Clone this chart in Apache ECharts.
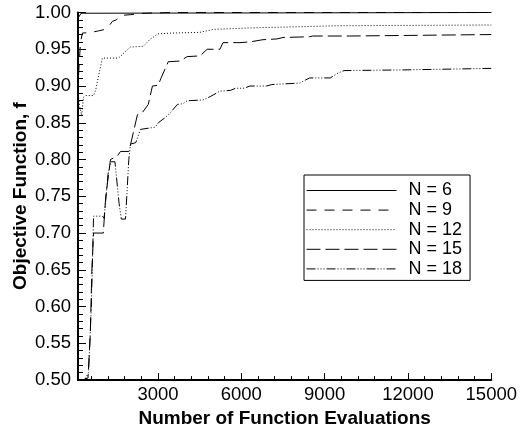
<!DOCTYPE html>
<html><head><meta charset="utf-8">
<script src="https://cdn.jsdelivr.net/npm/echarts@6/dist/echarts.min.js"></script>
<style>html,body{margin:0;padding:0;background:#fff}#c{width:520px;height:433px}</style>
</head><body><div id="c"></div>
<script>
const seriesNames = ['N = 6', 'N = 9', 'N = 12', 'N = 15', 'N = 18'];
const n6 = [[150,0.994],[230,0.999],[300,1.0],[15000,1.0]];
const n9 = [[140,0.915],[210,0.96],[280,0.972],[600,0.973],[860,0.975],[1100,0.977],[1200,0.98],[1360,0.988],[1500,0.99],[1650,0.996],[2000,0.997],[2500,0.999],[3500,1.0],[15000,1.0]];
const n12 = [[130,0.888],[180,0.872],[250,0.86],[320,0.885],[400,0.887],[680,0.887],[760,0.895],[900,0.921],[1000,0.938],[1580,0.938],[2000,0.953],[2470,0.954],[2700,0.963],[3000,0.971],[3500,0.972],[4500,0.973],[5000,0.977],[6300,0.979],[9500,0.982],[15000,0.983]];
const n15 = [[130,0.50],[300,0.50],[480,0.503],[560,0.56],[620,0.65],[680,0.70],[1030,0.70],[1120,0.75],[1290,0.80],[1540,0.805],[1650,0.811],[1950,0.811],[2010,0.82],[2260,0.861],[2440,0.864],[2650,0.875],[2800,0.90],[3010,0.901],[3100,0.91],[3370,0.933],[3800,0.934],[4050,0.94],[4520,0.941],[4770,0.95],[5230,0.95],[5340,0.959],[5950,0.959],[6310,0.96],[6780,0.963],[7280,0.964],[7500,0.966],[8460,0.967],[8570,0.968],[9900,0.968],[15000,0.970]];
const n18 = [[130,0.50],[350,0.50],[500,0.51],[600,0.60],[680,0.723],[1000,0.723],[1060,0.72],[1200,0.78],[1300,0.797],[1450,0.797],[1600,0.74],[1680,0.719],[1830,0.719],[1950,0.80],[2010,0.821],[2200,0.823],[2370,0.841],[2900,0.844],[3010,0.85],[3260,0.857],[3450,0.864],[3700,0.875],[3900,0.876],[4050,0.88],[4620,0.881],[4900,0.886],[5230,0.893],[5600,0.894],[5800,0.897],[6100,0.897],[6310,0.90],[6900,0.90],[7100,0.902],[8100,0.904],[8300,0.908],[8460,0.911],[9200,0.911],[9450,0.917],[9700,0.921],[12000,0.922],[15000,0.924]];
const xMajorTicks = [3000, 6000, 9000, 12000, 15000];
const xMinorTicks = [600,1200,1800,2400,3600,4200,4800,5400,6600,7200,7800,8400,9600,10200,10800,11400,12600,13200,13800,14400];

const FONT = '"Liberation Sans", Arial, sans-serif';
const dashes = ['solid', [10, 8], [1, 2], [14, 5], [9, 2, 1, 2, 1, 2, 1, 2]];
const allData = [n6, n9, n12, n15, n18];

const chart = echarts.init(document.getElementById('c'), null, {renderer: 'canvas'});
chart.setOption({
  animation: false,
  backgroundColor: '#fff',
  grid: {left: 78, right: 28, top: 12.5, bottom: 44, containLabel: false},
  xAxis: [{
    type: 'value', min: 120, max: 15000, position: 'bottom',
    axisLine: {show: true, onZero: false, lineStyle: {color: '#000', width: 2}},
    axisTick: {show: true, inside: true, length: 7, customValues: xMajorTicks, lineStyle: {color: '#000', width: 1}},
    axisLabel: {customValues: xMajorTicks, formatter: v => String(Math.round(v)), fontSize: 18.5, color: '#000', margin: 5, fontFamily: FONT},
    splitLine: {show: false},
    name: 'Number of Function Evaluations', nameLocation: 'middle', nameGap: 17,
    nameTextStyle: {fontWeight: 'bold', fontSize: 19, color: '#000', fontFamily: FONT}
  }, {
    type: 'value', min: 120, max: 15000, position: 'bottom',
    axisLine: {show: false, onZero: false},
    axisTick: {show: true, inside: true, length: 4, customValues: xMinorTicks, lineStyle: {color: '#000', width: 1}},
    axisLabel: {show: false},
    splitLine: {show: false}
  }],
  yAxis: {
    type: 'value', min: 0.5, max: 1.0, interval: 0.05,
    axisLine: {show: true, onZero: false, lineStyle: {color: '#000', width: 2}},
    axisTick: {show: true, inside: true, length: 8, lineStyle: {color: '#000', width: 1}},
    minorTick: {show: true, splitNumber: 5, length: 5, lineStyle: {color: '#000', width: 1}},
    axisLabel: {formatter: v => v.toFixed(2), fontSize: 18.5, color: '#000', margin: 7, fontFamily: FONT},
    splitLine: {show: false}, minorSplitLine: {show: false}
  },
  legend: {
    data: seriesNames, orient: 'vertical', left: 304, top: 175,
    itemWidth: 90, itemHeight: 14, itemGap: 0.6,
    padding: [6, 8, 2, 2],
    borderColor: '#000', borderWidth: 1, backgroundColor: '#fff',
    selectedMode: false,
    itemStyle: {opacity: 0, borderWidth: 0},
    lineStyle: {width: 1},
    textStyle: {fontSize: 18, color: '#000', lineHeight: 19, fontFamily: FONT, padding: [0, 0, 0, 7]}
  },
  graphic: [{
    type: 'text', x: 21, y: 196, rotation: Math.PI / 2,
    style: {text: 'Objective Function, f', font: 'bold 19px ' + FONT, fill: '#000',
      textAlign: 'center', textVerticalAlign: 'middle', align: 'center', verticalAlign: 'middle'}
  }],
  series: allData.map((d, i) => ({
    name: seriesNames[i], type: 'line', data: d, xAxisIndex: 0,
    symbol: 'none', showSymbol: false, clip: true,
    lineStyle: {color: '#000', width: 1, type: dashes[i]},
    itemStyle: {color: '#000'}
  }))
});
</script></body></html>
